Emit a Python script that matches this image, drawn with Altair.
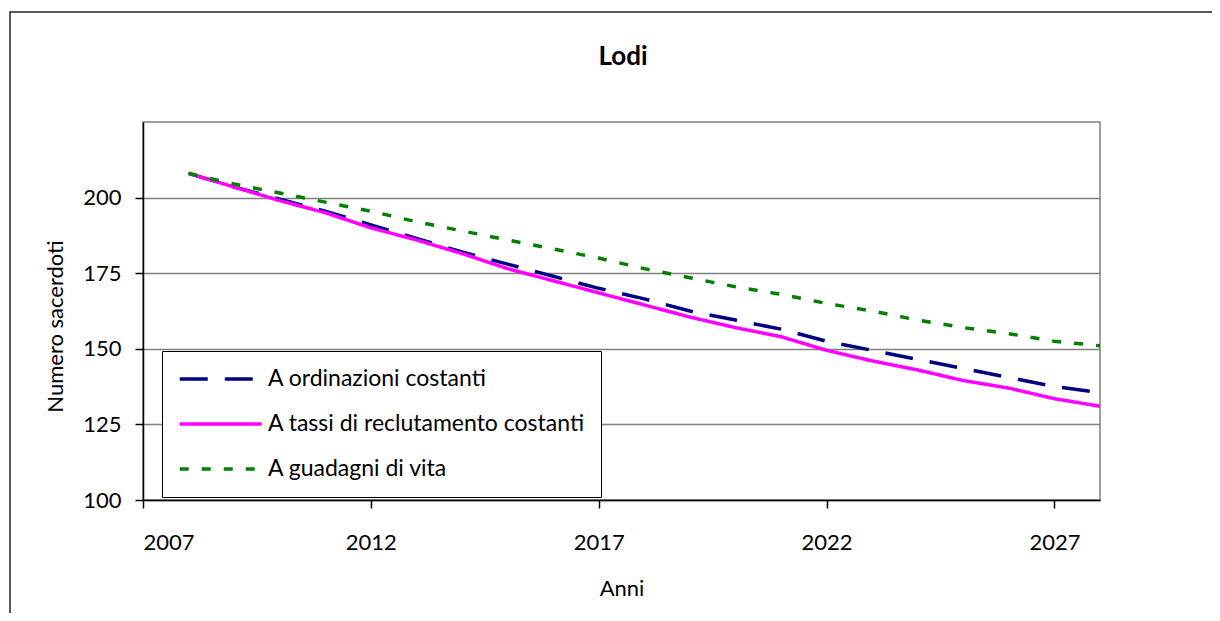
import altair as alt
import pandas as pd

years = list(range(2008, 2029))
ordinazioni = [208, 203.5, 199.5, 195.5, 191, 186.5, 182, 178, 174, 170, 166.5,
               162.5, 159.5, 156.5, 152.5, 149.5, 146.5, 143.5, 140.5, 137.5, 135.5]
tassi = [208, 203.5, 199, 195, 190, 186, 181.5, 176.5, 172.5, 168.5, 164.5,
         160.5, 157, 154, 149.5, 146, 143, 139.5, 137, 133.5, 131]
guadagni = [208, 204.5, 201.5, 198.5, 195.5, 192, 189, 186, 183, 180, 176.5,
            173.5, 170.5, 168, 165, 162.5, 159.5, 157, 155, 152.5, 151]

series = ["A ordinazioni costanti", "A tassi di reclutamento costanti", "A guadagni di vita"]
colors = ["#000080", "#FF00FF", "#008000"]
dashes = [[28, 17], [1, 0], [9, 13]]
x_ticks = [2007, 2012, 2017, 2022, 2027]
y_ticks = [100, 125, 150, 175, 200]
title_text = "Lodi"

rows = []
for name, vals in zip(series, [ordinazioni, tassi, guadagni]):
    for yr, v in zip(years, vals):
        rows.append({"Anno": yr, "Valore": v, "Serie": name})
df = pd.DataFrame(rows)

FONT = "Lato"

legend = alt.Legend(
    orient="none", legendX=19, legendY=229, title=None,
    symbolType="M-1,0L7,0", symbolSize=420, symbolStrokeWidth=3.5,
    labelFontSize=23, labelFont=FONT, labelColor="black", labelLimit=500,
    labelOffset=66, strokeColor="black", fillColor="white", padding=16,
    rowPadding=21,
)

color = alt.Color("Serie:N", scale=alt.Scale(domain=series, range=colors), legend=legend)
dash = alt.StrokeDash("Serie:N", scale=alt.Scale(domain=series, range=dashes), legend=legend)

x = alt.X("Anno:Q", scale=alt.Scale(domain=[2007, 2028], nice=False, zero=False),
          axis=alt.Axis(values=x_ticks, format="d", title="Anni", grid=False,
                        labelFontSize=22, labelFont=FONT, labelColor="black",
                        tickSize=8, tickColor="black", tickWidth=1.5,
                        domainColor="black", domainWidth=1.5, labelPadding=24,
                        titleFontSize=22, titleFont=FONT, titleFontWeight="normal",
                        titleColor="black", titlePadding=25))
y = alt.Y("Valore:Q", scale=alt.Scale(domain=[100, 225], nice=False, zero=False),
          axis=alt.Axis(values=y_ticks, title="Numero sacerdoti", grid=True,
                        gridColor="#808080", gridWidth=1.5,
                        labelFontSize=22, labelFont=FONT, labelColor="black",
                        tickSize=8, tickColor="black", tickWidth=1.5,
                        domainColor="black", domainWidth=1.5, labelPadding=14,
                        titleFontSize=22, titleFont=FONT, titleFontWeight="normal",
                        titleColor="black", titleX=-88, titleY=204,
                        titleBaseline="middle", titleAngle=270))

base = alt.Chart(df)
layers = []
for name in series:
    layers.append(
        base.transform_filter(alt.datum.Serie == name)
        .mark_line(strokeWidth=3.5, clip=True)
        .encode(x=x, y=y, color=color, strokeDash=dash)
    )

frame = alt.Chart(alt.Data(values=[{}])).mark_rect(
    filled=False, stroke="#222222", strokeWidth=1.5
).encode(x=alt.value(-133), y=alt.value(-110), x2=alt.value(1300), y2=alt.value(700))

title = alt.Chart(alt.Data(values=[{}])).mark_text(
    text=title_text, fontSize=26, font=FONT, fontWeight="bold", color="black",
    align="center", baseline="alphabetic"
).encode(x=alt.value(480), y=alt.value(-57))

chart = alt.layer(frame, title, *layers).properties(
    width=957, height=378,
    autosize=alt.AutoSizeParams(type="none"),
    padding={"left": 135, "top": 114, "right": 112, "bottom": 113},
).configure_view(stroke="#808080", strokeWidth=1.5).resolve_scale(
    color="shared", strokeDash="shared")

chart.save("out.html", embed_options={"renderer": "svg", "actions": False})
